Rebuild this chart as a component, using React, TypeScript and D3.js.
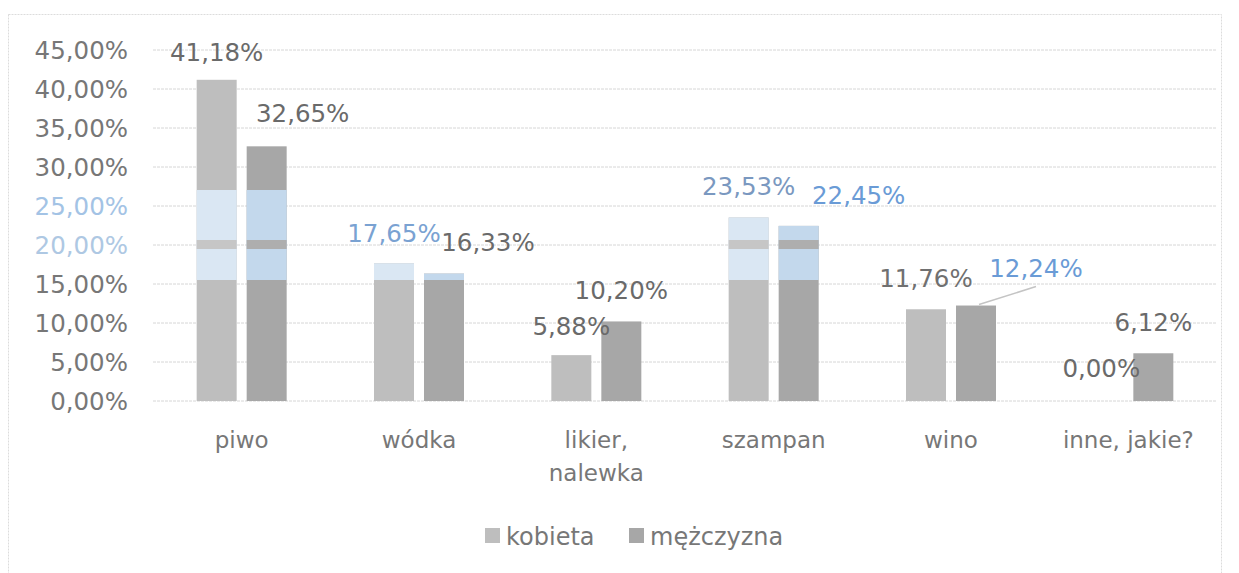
import React from "react";
import * as d3 from "d3";

const categories = [["piwo"], ["wódka"], ["likier,", "nalewka"], ["szampan"], ["wino"], ["inne, jakie?"]];
const seriesNames = ["kobieta", "mężczyzna"];
const kobieta = [0.4118, 0.1765, 0.0588, 0.2353, 0.1176, 0.0];
const mezczyzna = [0.3265, 0.1633, 0.102, 0.2245, 0.1224, 0.0612];
const yTicks = [0, 0.05, 0.1, 0.15, 0.2, 0.25, 0.3, 0.35, 0.4, 0.45];

// label offsets (dx, dy) relative to bar centre / bar top
const labelOffsets = [
  [[0, -28], [0, -30], [0, -29], [0, -31], [0, -31], [-2, -33]],
  [[36, -33], [44, -31], [0, -31], [60, -31], [60, -37], [0, -31]],
];
const labelColors = [
  ["#6a6a6a", "#7aa2d2", "#6a6a6a", "#7a98c0", "#707070", "#6a6a6a"],
  ["#6a6a6a", "#6a6a6a", "#6a6a6a", "#6a9bd6", "#6a9bd6", "#6a6a6a"],
];
const tickColors = ["#777777", "#777777", "#777777", "#777777", "#aec8e3", "#a3c3e5", "#777777", "#777777", "#777777", "#777777"];

const W = 1239;
const H = 573;
const FONT = "'DejaVu Sans', sans-serif";

const fmt = (v: number) => d3.format(".2f")(v * 100).replace(".", ",") + "%";

export default function App() {
  const y = d3.scaleLinear().domain([0, 0.45]).range([401, 50]);
  const x0 = d3.scaleBand<number>().domain(d3.range(categories.length)).range([153, 1217]).padding(0);
  const x1 = d3.scaleBand<number>().domain([0, 1]).range([-45, 45]).paddingInner(0.2);
  const series = [kobieta, mezczyzna];
  const barColors = ["#bebebe", "#a7a7a7"];
  const tintColors = ["#dae7f3", "#c3d8ec"];
  const stripeColors = ["#c6c6c6", "#aeaeae"];
  const bandTop = 190;
  const bandBottom = 280;

  const bars: any[] = [];
  series.forEach((vals, s) => {
    vals.forEach((v, i) => {
      const cx = (x0(i) as number) + x0.bandwidth() / 2;
      const bx = cx + (x1(s) as number);
      bars.push({ s, i, v, bx, bw: x1.bandwidth(), top: y(v), bottom: y(0), cx: bx + x1.bandwidth() / 2 });
    });
  });

  return (
    <svg width={W} height={H} style={{ position: "absolute", left: 0, top: 0, background: "#fff" }}>
      <rect x={8.5} y={14.5} width={1213} height={570} fill="#fff" stroke="#dcdcdc" strokeDasharray="2,1" />
      {yTicks.map((t, k) => (
        <g key={k}>
          <line x1={153} x2={1217} y1={y(t)} y2={y(t)} stroke="#d6d6d6" strokeDasharray="3,1" />
          <text x={128} y={y(t)} dy="0.36em" textAnchor="end" fontFamily={FONT} fontSize={24.5} fill={tickColors[k]}>
            {fmt(t)}
          </text>
        </g>
      ))}
      <defs>
        <clipPath id="band">
          <rect x={0} y={bandTop} width={W} height={bandBottom - bandTop} />
        </clipPath>
      </defs>
      {bars.map((b, k) => (
        <g key={k}>
          <rect x={b.bx} y={b.top} width={b.bw} height={b.bottom - b.top} fill={barColors[b.s]} />
          <g clipPath="url(#band)">
            <rect x={b.bx} y={b.top} width={b.bw} height={b.bottom - b.top} fill={tintColors[b.s]} />
            <rect x={b.bx} y={Math.max(b.top, 240)} width={b.bw} height={Math.max(0, 249 - Math.max(b.top, 240))} fill={stripeColors[b.s]} />
          </g>
        </g>
      ))}
      {(() => {
        const b = bars.find((d) => d.s === 1 && d.i === 4);
        const [dx, dy] = labelOffsets[1][4];
        return <line x1={b.cx + 3} y1={b.top - 1} x2={b.cx + dx} y2={b.top + dy + 18} stroke="#c4c4c4" strokeWidth={1.5} />;
      })()}
      {bars.map((b, k) => {
        const [dx, dy] = labelOffsets[b.s][b.i];
        return (
          <text key={k} x={b.cx + dx} y={b.top + dy} dy="0.36em" textAnchor="middle" fontFamily={FONT} fontSize={24.5} fill={labelColors[b.s][b.i]}>
            {fmt(b.v)}
          </text>
        );
      })}
      {categories.map((lines, i) => (
        <text key={i} x={(x0(i) as number) + x0.bandwidth() / 2} y={440} textAnchor="middle" fontFamily={FONT} fontSize={23} fill="#777777">
          {lines.map((l, j) => (
            <tspan key={j} x={(x0(i) as number) + x0.bandwidth() / 2} y={440 + j * 33} dy="0.36em">
              {l}
            </tspan>
          ))}
        </text>
      ))}
      {seriesNames.map((n, s) => {
        const lx = s === 0 ? 485 : 629;
        return (
          <g key={n}>
            <rect x={lx} y={528} width={15} height={15} fill={barColors[s]} />
            <text x={lx + 21} y={536} dy="0.36em" fontFamily={FONT} fontSize={24} fill="#777777">
              {n}
            </text>
          </g>
        );
      })}
    </svg>
  );
}
